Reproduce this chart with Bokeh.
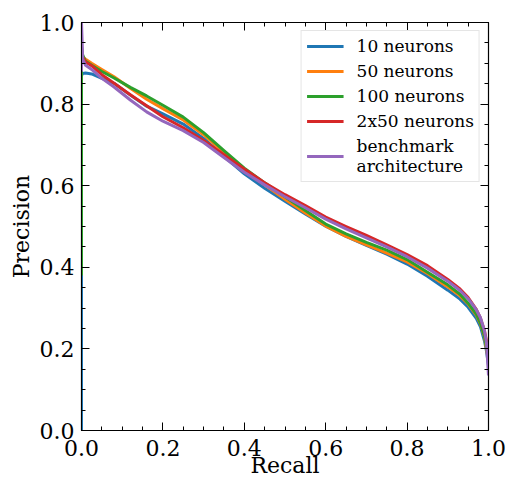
from bokeh.plotting import figure
from bokeh.models import (Range1d, LinearAxis, SingleIntervalTicker, NumeralTickFormatter,
                          Legend, LegendItem, CustomJSTickFormatter)
from bokeh.embed import file_html
from bokeh.resources import INLINE

# ---------------- data ----------------
recall = [0.0, 0.0, 0.003, 0.01, 0.025, 0.05, 0.08, 0.12, 0.16, 0.2, 0.25, 0.3, 0.35, 0.4,
          0.45, 0.5, 0.55, 0.6, 0.65, 0.7, 0.75, 0.8, 0.85, 0.9, 0.93, 0.95, 0.97, 0.98,
          0.99, 0.995, 1.0]

prec_10 = [0.0, 0.87, 0.875, 0.876, 0.874, 0.863, 0.851, 0.822, 0.795, 0.776, 0.751, 0.716,
           0.672, 0.629, 0.594, 0.562, 0.531, 0.501, 0.476, 0.454, 0.432, 0.408, 0.378,
           0.344, 0.322, 0.302, 0.275, 0.255, 0.22, 0.195, 0.16]
prec_50 = [0.89, 0.92, 0.915, 0.91, 0.90, 0.885, 0.867, 0.839, 0.812, 0.789, 0.761, 0.725,
           0.682, 0.638, 0.602, 0.567, 0.533, 0.501, 0.476, 0.455, 0.435, 0.413, 0.385,
           0.352, 0.33, 0.31, 0.283, 0.262, 0.23, 0.2, 0.17]
prec_100 = [0.38, 0.94, 0.92, 0.905, 0.895, 0.88, 0.864, 0.841, 0.82, 0.797, 0.768, 0.73,
            0.686, 0.643, 0.607, 0.573, 0.539, 0.506, 0.482, 0.461, 0.442, 0.419, 0.388,
            0.357, 0.334, 0.312, 0.285, 0.264, 0.232, 0.205, 0.17]
prec_2x50 = [0.90, 0.93, 0.915, 0.903, 0.894, 0.872, 0.851, 0.823, 0.796, 0.769, 0.742,
             0.711, 0.676, 0.641, 0.607, 0.578, 0.551, 0.523, 0.5, 0.478, 0.455, 0.431,
             0.404, 0.37, 0.347, 0.326, 0.297, 0.276, 0.245, 0.22, 0.19]
prec_bench = [0.88, 1.0, 0.91, 0.895, 0.885, 0.863, 0.842, 0.81, 0.781, 0.758, 0.735,
              0.706, 0.669, 0.633, 0.602, 0.573, 0.546, 0.518, 0.494, 0.472, 0.45, 0.426,
              0.398, 0.366, 0.343, 0.323, 0.296, 0.277, 0.245, 0.215, 0.135]

series_labels = ["10 neurons", "50 neurons", "100 neurons", "2x50 neurons",
                 "benchmark\narchitecture"]
series_values = [prec_10, prec_50, prec_100, prec_2x50, prec_bench]
series_colors = ["#1f77b4", "#ff7f0e", "#2ca02c", "#d62728", "#9467bd"]

x_label = "Recall"
y_label = "Precision"

FONT = "DejaVu Serif"

# ---------------- figure ----------------
p = figure(frame_width=407, frame_height=408,
           x_range=Range1d(0, 1), y_range=Range1d(0, 1),
           output_backend="svg", toolbar_location=None,
           min_border_left=81, min_border_right=18, min_border_top=22,
           min_border_bottom=45)
p.grid.visible = False
p.outline_line_color = "black"
p.outline_line_width = 1.2
p.background_fill_color = "white"
p.border_fill_color = "white"

items = []
for lab, vals, col in zip(series_labels, series_values, series_colors):
    r = p.line(recall, vals, line_color=col, line_width=3, line_join="round")
    items.append(LegendItem(label=lab, renderers=[r]))


def style_axis(ax, labels=True):
    ax.ticker = SingleIntervalTicker(interval=0.2, num_minor_ticks=4)
    ax.axis_line_color = "black"
    ax.major_tick_in = 8
    ax.major_tick_out = 0
    ax.minor_tick_in = 4
    ax.minor_tick_out = 0
    ax.major_tick_line_color = "black"
    ax.minor_tick_line_color = "black"
    if labels:
        ax.formatter = NumeralTickFormatter(format="0.0")
        ax.major_label_text_font = FONT
        ax.major_label_text_font_size = "22px"
        ax.major_label_text_color = "black"
        ax.major_label_standoff = 7
        ax.axis_label_text_font = FONT
        ax.axis_label_text_font_size = "22px"
        ax.axis_label_text_font_style = "normal"
        ax.axis_label_text_color = "black"
    else:
        ax.formatter = CustomJSTickFormatter(code="return ''")
        ax.major_label_standoff = 0
        ax.major_label_text_font_size = "1px"


style_axis(p.xaxis[0])
style_axis(p.yaxis[0])
p.xaxis[0].axis_label = x_label
p.yaxis[0].axis_label = y_label
p.xaxis[0].major_label_standoff = 9
p.xaxis[0].axis_label_standoff = -6
p.yaxis[0].axis_label_standoff = 3

top_ax = LinearAxis()
right_ax = LinearAxis()
style_axis(top_ax, labels=False)
style_axis(right_ax, labels=False)
p.add_layout(top_ax, "above")
p.add_layout(right_ax, "right")

legend = Legend(items=items, location="top_right")
legend.label_text_font = FONT
legend.label_text_font_size = "17px"
legend.label_text_color = "black"
legend.glyph_width = 37
legend.glyph_height = 20
legend.label_height = 20
legend.label_standoff = 13
legend.spacing = 5
legend.padding = 5
legend.margin = 8
legend.border_line_color = "#cccccc"
legend.border_line_width = 1
legend.background_fill_alpha = 1.0
p.add_layout(legend)

open("out.html", "w").write(file_html(p, INLINE))
